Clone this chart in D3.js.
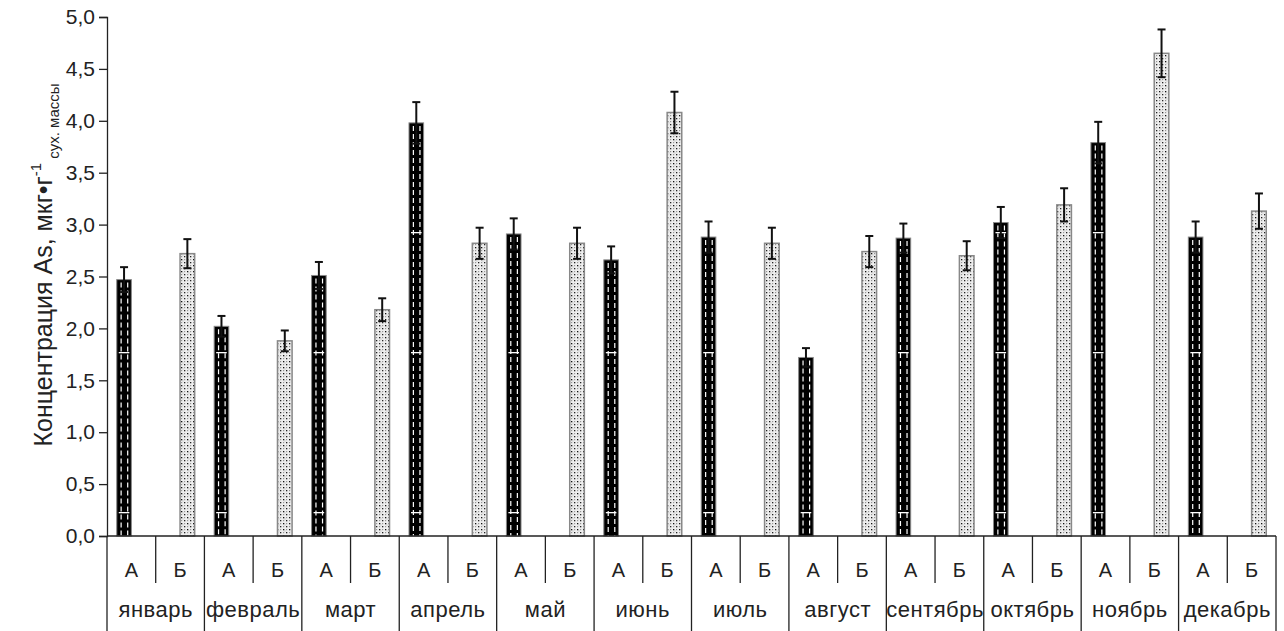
<!DOCTYPE html>
<html><head><meta charset="utf-8">
<script src="https://cdn.jsdelivr.net/npm/d3@7"></script>
<style>body{margin:0;background:#fff}svg{display:block;font-family:"Liberation Sans",Arial,sans-serif}</style>
</head><body>
<svg id="c" width="1284" height="631"></svg>
<script>
const months = ["январь","февраль","март","апрель","май","июнь","июль","август","сентябрь","октябрь","ноябрь","декабрь"];
const groups = ["А","Б"];
const valuesA = [2.47,2.02,2.51,3.98,2.91,2.66,2.88,1.72,2.87,3.02,3.79,2.88];
const errA    = [0.12,0.10,0.13,0.20,0.15,0.13,0.15,0.09,0.14,0.15,0.20,0.15];
const valuesB = [2.72,1.88,2.18,2.82,2.82,4.08,2.82,2.74,2.70,3.19,4.65,3.13];
const errB    = [0.14,0.10,0.11,0.15,0.15,0.20,0.15,0.15,0.14,0.16,0.23,0.17];
const yTicks = [0,0.5,1,1.5,2,2.5,3,3.5,4,4.5,5];

const svg = d3.select("#c");
const mLeft = 107, mRight = 1276, mTop = 17, base = 536;
const slots = [];
months.forEach((m,i)=>groups.forEach((g,j)=>slots.push({m,i,g,j,key:i+"-"+j})));
const x = d3.scaleBand().domain(slots.map(s=>s.key)).range([mLeft,mRight]).padding(0);
const y = d3.scaleLinear().domain([0,5]).range([base,mTop]);
const bw = x.bandwidth()*0.30;

const defs = svg.append("defs");
const hl = defs.append("pattern").attr("id","hl").attr("patternUnits","userSpaceOnUse")
  .attr("x",0).attr("y",112).attr("width",1284).attr("height",400);
[0,120,240].forEach(o=>hl.append("rect").attr("x",0).attr("y",o).attr("width",1284).attr("height",1.3).attr("fill","#fff"));
const dp = defs.append("pattern").attr("id","dots").attr("patternUnits","userSpaceOnUse")
  .attr("width",6).attr("height",6);
dp.append("rect").attr("width",6).attr("height",6).attr("fill","#eeeeee");
dp.append("rect").attr("x",1).attr("y",1).attr("width",1.3).attr("height",1.3).attr("fill","#111");
dp.append("rect").attr("x",4).attr("y",4).attr("width",1.3).attr("height",1.3).attr("fill","#222");
dp.append("rect").attr("x",4).attr("y",1).attr("width",1.2).attr("height",1.2).attr("fill","#999");
dp.append("rect").attr("x",1).attr("y",4).attr("width",1.2).attr("height",1.2).attr("fill","#999");
dp.append("rect").attr("x",2.5).attr("y",2.5).attr("width",1).attr("height",1).attr("fill","#bbb");

// Y axis
const ya = svg.append("g").attr("transform",`translate(${mLeft},0)`)
  .call(d3.axisLeft(y).tickValues(yTicks).tickSize(8).tickPadding(4)
    .tickFormat(d=>d3.format(".1f")(d).replace(".",",")));
ya.select(".domain").attr("stroke","#222").attr("stroke-width",1.3);
ya.selectAll(".tick line").attr("stroke","#222").attr("stroke-width",1.3);
ya.selectAll(".tick text").attr("font-size",21).attr("fill","#222").attr("font-family","Liberation Sans, Arial, sans-serif");

// bars
const dataA = months.map((m,i)=>({key:i+"-0",v:valuesA[i],e:errA[i]}));
const dataB = months.map((m,i)=>({key:i+"-1",v:valuesB[i],e:errB[i]}));
const cx = k => x(k)+x.bandwidth()/2;

const gA = svg.append("g");
gA.selectAll("rect.a").data(dataA).join("rect")
  .attr("x",d=>cx(d.key)-bw).attr("y",d=>y(d.v)).attr("width",bw).attr("height",d=>base-y(d.v))
  .attr("fill","#000").attr("stroke","#888").attr("stroke-width",1);
gA.selectAll("rect.h").data(dataA).join("rect")
  .attr("x",d=>cx(d.key)-bw+2).attr("y",d=>y(d.v)+1).attr("width",bw-4).attr("height",d=>base-y(d.v)-1)
  .attr("fill","url(#hl)");
[0.3,0.75].forEach(f=>{
  gA.selectAll(null).data(dataA).join("line")
    .attr("x1",d=>cx(d.key)-bw+bw*f).attr("x2",d=>cx(d.key)-bw+bw*f)
    .attr("y1",d=>y(d.v)+3).attr("y2",base)
    .attr("stroke","#fff").attr("stroke-width",1.2).attr("stroke-dasharray","5,3");
});
const gB = svg.append("g");
gB.selectAll("rect").data(dataB).join("rect")
  .attr("x",d=>cx(d.key)).attr("y",d=>y(d.v)).attr("width",bw).attr("height",d=>base-y(d.v))
  .attr("fill","url(#dots)").attr("stroke","#888").attr("stroke-width",1.5);

// error bars
const eb = svg.append("g").attr("stroke","#111").attr("stroke-width",2);
const all = dataA.map(d=>({...d,c:cx(d.key)-bw/2})).concat(dataB.map(d=>({...d,c:cx(d.key)+bw/2})));
eb.selectAll("line.v").data(all).join("line").attr("x1",d=>d.c).attr("x2",d=>d.c)
  .attr("y1",d=>y(d.v+d.e)).attr("y2",d=>y(d.v-d.e));
eb.selectAll("line.t").data(all).join("line").attr("x1",d=>d.c-4).attr("x2",d=>d.c+4)
  .attr("y1",d=>y(d.v+d.e)).attr("y2",d=>y(d.v+d.e));
eb.selectAll("line.b").data(all).join("line").attr("x1",d=>d.c-4).attr("x2",d=>d.c+4)
  .attr("y1",d=>y(d.v-d.e)).attr("y2",d=>y(d.v-d.e));

// x axis table
const xa = svg.append("g");
xa.append("line").attr("x1",mLeft).attr("x2",mRight).attr("y1",base).attr("y2",base).attr("stroke","#222").attr("stroke-width",1.3);
const bounds = x.domain().map(k=>x(k)).concat([mRight]);
bounds.forEach((b,i)=>{
  xa.append("line").attr("x1",b).attr("x2",b).attr("y1",base).attr("y2", i%2===0 ? 631 : 583)
    .attr("stroke","#222").attr("stroke-width",1.3);
});
xa.selectAll("text.g").data(slots).join("text")
  .attr("x",d=>cx(d.key)).attr("y",577).attr("text-anchor","middle")
  .attr("font-size",20).attr("fill","#222").text(d=>d.g);
xa.selectAll("text.m").data(months).join("text")
  .attr("x",(d,i)=>x(i+"-1")).attr("y",617).attr("text-anchor","middle")
  .attr("font-size",22).attr("letter-spacing",0.5).attr("fill","#222").text(d=>d);

// y label
const lab = svg.append("text").attr("transform","translate(52,265) rotate(-90)")
  .attr("text-anchor","middle").attr("font-size",25).attr("fill","#222");
lab.append("tspan").text("Концентрация As, мкг•г");
lab.append("tspan").attr("font-size",15).attr("dy",-11).text("-1");
lab.append("tspan").attr("font-size",15).attr("dy",18).text(" сух. массы");
</script>
</body></html>
